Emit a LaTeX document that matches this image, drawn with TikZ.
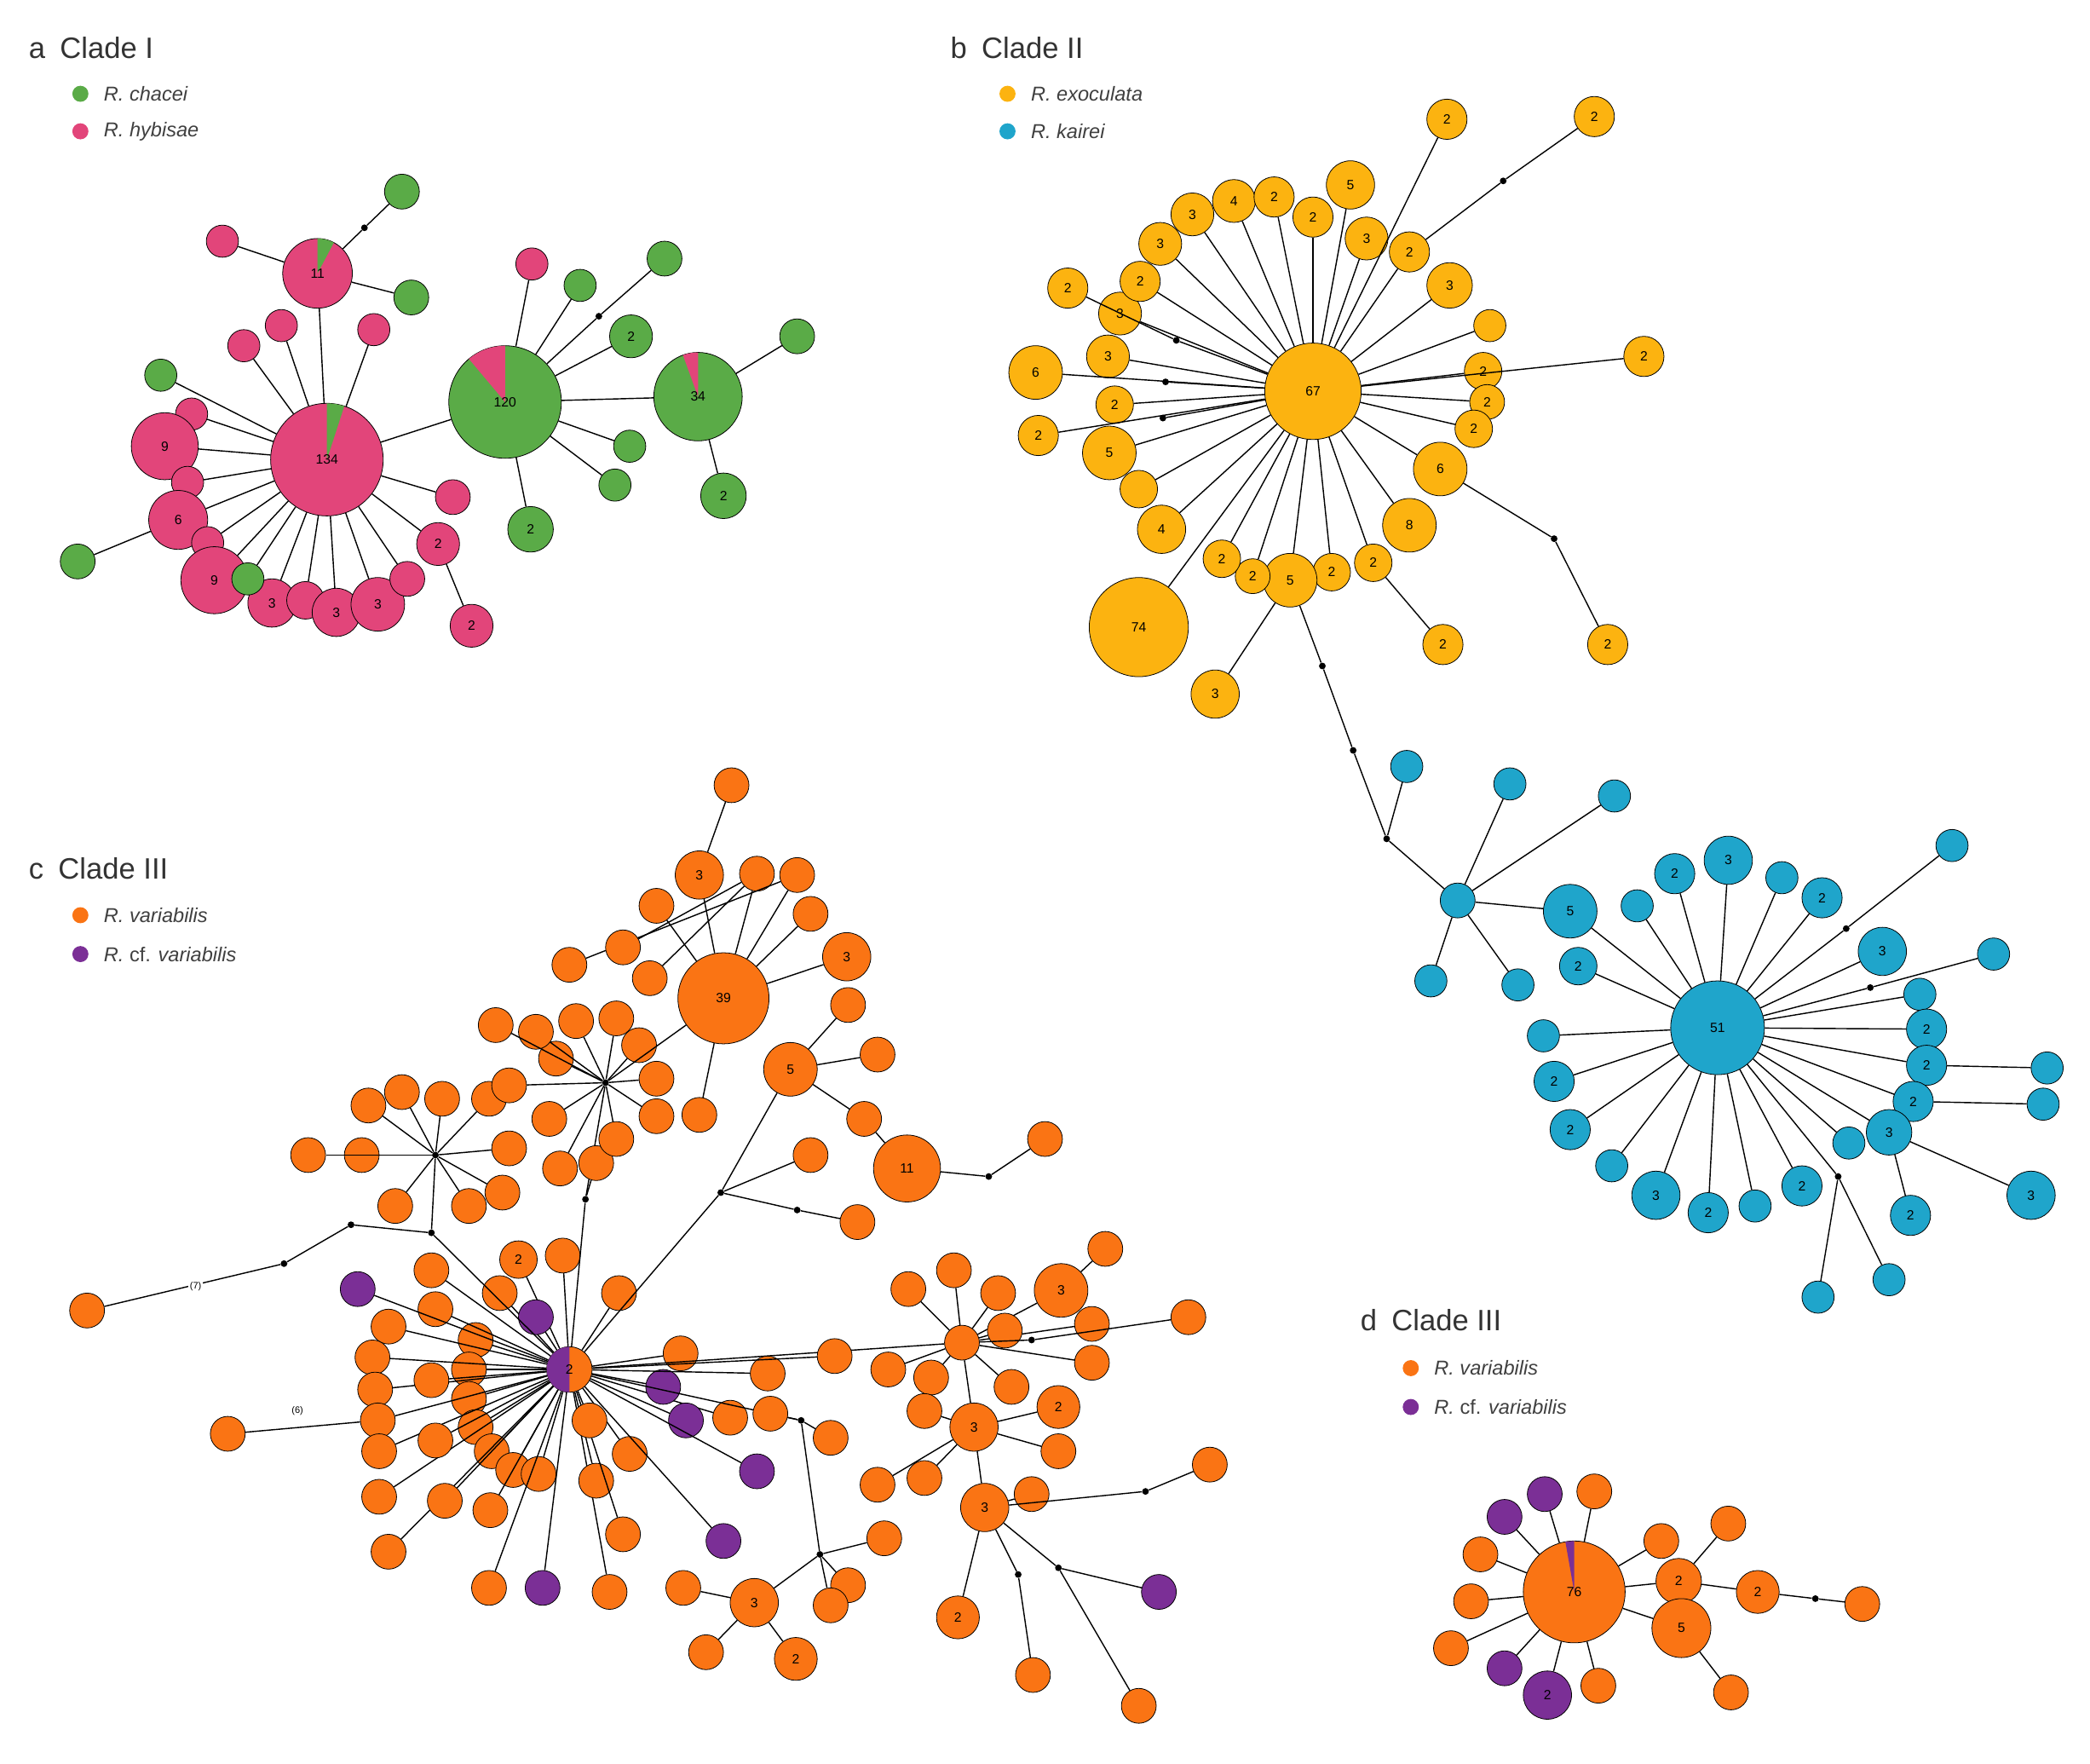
\documentclass[tikz,border=0pt]{standalone}
\usepackage{fontspec}
\setmainfont{Liberation Sans}
\begin{document}
\begin{tikzpicture}[x=1pt,y=-1pt,
 hapn/.style={circle,draw=black,line width=0.5pt,inner sep=0pt,font=\fontsize{10}{10}\selectfont},
 dotn/.style={circle,fill=black,inner sep=0pt,minimum size=5pt},
 edge/.style={line width=0.9pt,black},
 ttl/.style={anchor=west,font=\fontsize{22}{22}\selectfont,text=black!80},
 leg/.style={anchor=west,font=\fontsize{15}{15}\selectfont\itshape,text=black!75}]
\definecolor{cg}{HTML}{5AAB47}
\definecolor{cp}{HTML}{E2457A}
\definecolor{cy}{HTML}{FCB310}
\definecolor{cb}{HTML}{1FA5CB}
\definecolor{co}{HTML}{FA7414}
\definecolor{cv}{HTML}{7B2F96}
\newcommand\hp[5]{\node[hapn,minimum size=#3*2pt,fill=#4] (#1) at (#2) {#5};}
\newcommand\dt[2]{\node[dotn] (#1) at (#2) {};}
\newcommand\leaves[3]{\foreach \n/\x/\y/\r/\l in {#3}{\node[hapn,minimum size=\r*2pt,fill=#2] (\n) at (\x,\y) {\l}; \draw[edge] (#1) -- (\n);}}
\newcommand\ed[2]{\draw[edge] (#1) -- (#2);}
\fill[white] (0,0) rectangle (1560,1316);
\useasboundingbox (0,0) rectangle (1560,1316);
% ---------- titles
\node[ttl] (ta) at (18,36) {a\enspace Clade I};
\node[circle,fill=cg,minimum size=12pt,inner sep=0pt] (la1) at (60,70) {};
\node[leg] at (74,70) {R. chacei};
\node[circle,fill=cp,minimum size=12pt,inner sep=0pt] (la2) at (60,98) {};
\node[leg] at (74,98) {R. hybisae};
\node[ttl] (tb) at (706,36) {b\enspace Clade II};
\node[circle,fill=cy,minimum size=12pt,inner sep=0pt] (lb1) at (752,70) {};
\node[leg] at (766,70) {R. exoculata};
\node[circle,fill=cb,minimum size=12pt,inner sep=0pt] (lb2) at (752,98) {};
\node[leg] at (766,98) {R. kairei};
\node[ttl] (tc) at (18,648) {c\enspace Clade III};
\node[circle,fill=co,minimum size=12pt,inner sep=0pt] (lc1) at (60,683) {};
\node[leg] at (74,683) {R. variabilis};
\node[circle,fill=cv,minimum size=12pt,inner sep=0pt] (lc2) at (60,712) {};
\node[leg] at (74,712) {R. {\upshape cf.} variabilis};
\node[ttl] (td) at (1012,985) {d\enspace Clade III};
\node[circle,fill=co,minimum size=12pt,inner sep=0pt] (ld1) at (1053,1021) {};
\node[leg] at (1067,1021) {R. variabilis};
\node[circle,fill=cv,minimum size=12pt,inner sep=0pt] (ld2) at (1053,1050) {};
\node[leg] at (1067,1050) {R. {\upshape cf.} variabilis};
% ---------- panel a
\hp{A134}{244,343}{42}{cp}{}
\fill[cg] (A134.center) -- ++(72:42pt) arc (72:90:42pt) -- cycle;
\node[font=\fontsize{10}{10}\selectfont] at (A134.center) {134};
\hp{A120}{377,300}{42}{cg}{}
\fill[cp] (A120.center) -- ++(90:42pt) arc (90:130:42pt) -- cycle;
\node[font=\fontsize{10}{10}\selectfont] at (A120.center) {120};
\hp{A34}{521,296}{33}{cg}{}
\fill[cp] (A34.center) -- ++(90:33pt) arc (90:110:33pt) -- cycle;
\node[font=\fontsize{10}{10}\selectfont] at (A34.center) {34};
\hp{A11}{237,204}{26}{cp}{}
\fill[cg] (A11.center) -- ++(62:26pt) arc (62:90:26pt) -- cycle;
\node[font=\fontsize{10}{10}\selectfont] at (A11.center) {11};
\ed{A134}{A11}\ed{A134}{A120}\ed{A120}{A34}
\dt{ad1}{272,170}\ed{A11}{ad1}
\leaves{ad1}{cg}{a40/300/143/13/{}}
\leaves{A11}{cp}{a41/166/180/12/{}}
\leaves{A11}{cg}{a42/307/222/13/{}}
\leaves{A134}{cp}{a1/210/243/12/{},a2/182/258/12/{},a3/279/246/12/{},a4/143/309/12/{},a5/123/333/25/9,a6/140/360/12/{},a7/133/388/22/6,a8/155/405/12/{},a9/160/433/25/9,a11/203/450/18/3,a12/228/448/14/{},a13/251/457/18/3,a14/282/451/20/3,a15/304/432/13/{},a16/327/406/16/2,a17/338/371/13/{}}
\leaves{A134}{cg}{a10/185/432/12/{},a18/120/280/12/{}}
\leaves{a16}{cp}{a19/352/467/16/2}
\leaves{a7}{cg}{a20/58/419/13/{}}
\dt{ad2}{447,236}\ed{A120}{ad2}
\leaves{ad2}{cg}{a21/496/193/13/{}}
\leaves{A120}{cp}{a22/397/197/12/{}}
\leaves{A120}{cg}{a23/433/213/12/{},a24/471/251/16/2,a25/470/333/12/{},a26/459/362/12/{},a27/396/395/17/2}
\leaves{A34}{cg}{a28/595/251/13/{},a29/540/370/17/2}
% ---------- panel b
\hp{B67}{980,292}{36}{cy}{67}
\leaves{B67}{cy}{b1/890/160/16/3,b2/921/150/16/4,b3/951/147/15/2,b4/980/162/15/2,b5/1008/138/18/5,b6/1020/178/16/3,b7/1052/188/15/2,b8/1082/213/17/3,b9/1112/243/12/{},b10/1107/277/14/2,b11/1110/300/13/2,b12/1100/320/14/2,b13/1075/350/20/6,b14/1052/392/20/8,b15/1025/420/14/2,b16/994/427/14/2,b17/963/433/20/5,b18/935/430/13/2,b19/912/417/14/2,b20/867/395/18/4,b21/850/365/14/{},b22/828/338/20/5,b23/832/302/14/2,b24/827/266/16/3,b25/836/234/16/3,b26/851/210/15/2,b27/866/182/16/3,b29/773/278/20/6,b30/775/325/15/2,b31/850/468/37/74,b32/1080/89/15/2,b33/1227/266/15/2}
\dt{bd1}{878,254}\ed{B67}{bd1}\leaves{bd1}{cy}{b28/797/215/15/2}
\dt{bd2}{870,285}\ed{B67}{bd2}\dt{bd3}{868,312}\ed{B67}{bd3}
\dt{bd4}{1122,135}\ed{b7}{bd4}\leaves{bd4}{cy}{b34/1190/87/15/2}
\dt{bd5}{1160,402}\ed{b13}{bd5}\leaves{bd5}{cy}{b35/1200/481/15/2}
\leaves{b15}{cy}{b36/1077/481/15/2}
\leaves{b17}{cy}{b37/907/518/18/3}
\dt{bd6}{987,497}\dt{bd7}{1010,560}\dt{bd8}{1035,626}
\ed{b17}{bd6}\ed{bd6}{bd7}\ed{bd7}{bd8}
\hp{BH}{1088,672}{13}{cb}{}
\ed{bd8}{BH}
\leaves{bd8}{cb}{c1/1050/572/12/{}}
\leaves{BH}{cb}{c2/1127/585/12/{},c3/1205/594/12/{},c4/1068/732/12/{},c5/1133/735/12/{},c6/1172/680/20/5}
\hp{B51}{1282,767}{35}{cb}{51}
\ed{c6}{B51}
\leaves{B51}{cb}{c7/1178/721/14/2,c8/1222/676/12/{},c9/1250/652/15/2,c10/1290/642/18/3,c11/1330/655/12/{},c12/1360/670/15/2,c13/1405/710/18/3,c14/1433/742/12/{},c15/1438/768/15/2,c16/1438/795/15/2,c17/1428/822/15/2,c18/1410/845/17/3,c19/1380/853/12/{},c20/1345/885/15/2,c21/1310/900/12/{},c22/1275/905/15/2,c23/1236/892/18/3,c24/1203/870/12/{},c25/1172/843/15/2,c26/1160/807/15/2,c27/1152/773/12/{}}
\dt{bd9}{1378,693}\ed{B51}{bd9}\leaves{bd9}{cb}{c28/1457/631/12/{}}
\dt{bd10}{1396,737}\ed{B51}{bd10}\leaves{bd10}{cb}{c29/1488/712/12/{}}
\leaves{c16}{cb}{c30/1528/797/12/{}}
\leaves{c17}{cb}{c31/1525/824/12/{}}
\leaves{c18}{cb}{c32/1516/892/18/3,c33/1426/907/15/2}
\dt{bd11}{1372,878}\ed{B51}{bd11}
\leaves{bd11}{cb}{c34/1357/968/12/{},c35/1410/955/12/{}}
% ---------- panel c
\hp{C0}{425,1022}{17}{co}{}
\fill[cv] (C0.center) -- ++(90:17pt) arc (90:270:17pt) -- cycle;
\node[font=\fontsize{10}{10}\selectfont] at (C0.center) {2};
\leaves{C0}{co}{d1/355/1000/13/{},d2/350/1022/13/{},d3/350/1044/13/{},d4/355/1065/13/{},d5/367/1083/13/{},d6/383/1097/13/{},d7/402/1100/13/{},d8/290/990/13/{},d9/278/1013/13/{},d10/280/1037/13/{},d11/282/1060/13/{},d12/283/1083/13/{},d13/283/1117/13/{},d14/290/1158/13/{},d15/322/1030/13/{},d16/325/1075/13/{},d17/325/977/13/{},d18/332/1120/13/{},d19/366/1127/13/{},d20/365/1185/13/{},d22/455/1188/13/{},d23/445/1105/13/{},d24/465/1145/13/{},d25/470/1085/13/{},d30/545/1058/13/{},d31/462/965/13/{},d32/420/937/13/{},d33/387/940/14/2,d35/373/965/13/{},d36/322/948/13/{},d38/508/1010/13/{},d39/440/1060/13/{}}
\leaves{C0}{cv}{d21/405/1185/13/{},d26/495/1035/13/{},d27/512/1060/13/{},d28/565/1098/13/{},d29/540/1150/13/{},d34/400/983/13/{},d37/267/962/13/{}}
\dt{cd1}{322,920}\dt{cd2}{262,914}\dt{cd3}{212,943}
\ed{C0}{cd1}\ed{cd1}{cd2}\ed{cd2}{cd3}
\leaves{cd3}{co}{e1/65/978/13/{}}
\node[font=\fontsize{7}{7}\selectfont,fill=white,inner sep=1pt] (l7) at (146,960) {(7)};
\leaves{d11}{co}{e2/170/1070/13/{}}
\node[font=\fontsize{7}{7}\selectfont,fill=white,inner sep=1pt] (l6) at (222,1053) {(6)};
\dt{cH2}{325,862}\ed{cd1}{cH2}
\leaves{cH2}{co}{e3/275/825/13/{},e4/300/815/13/{},e5/330/820/13/{},e6/365/820/13/{},e7/380/857/13/{},e8/270/862/13/{},e9/295/900/13/{},e10/350/900/13/{},e11/375/890/13/{},e12/230/862/13/{}}
\dt{cd4}{437,895}\ed{C0}{cd4}
\dt{cH1}{452,808}\ed{cd4}{cH1}
\leaves{cd4}{co}{e13/445/868/13/{}}
\leaves{cH1}{co}{e14/410/835/13/{},e15/418/872/13/{},e16/460/850/13/{},e17/490/833/13/{},e18/490/805/13/{},e19/477/780/13/{},e20/460/760/13/{},e21/430/762/13/{},e22/415/790/13/{},e23/400/770/13/{},e24/370/765/13/{},e25/380/810/13/{}}
\hp{C39}{540,745}{34}{co}{39}
\ed{cH1}{C39}
\leaves{C39}{co}{e26/522/832/13/{},e27/522/653/18/3,e28/490/676/13/{},e29/565/652/13/{},e30/595/653/13/{},e31/605/682/13/{},e32/632/714/18/3}
\leaves{e27}{co}{e33/546/586/13/{}}
\leaves{e30}{co}{e34/425/720/13/{}}
\leaves{e29}{co}{e35/465/707/13/{},e36/485/730/13/{}}
\dt{cd5}{538,890}\ed{C0}{cd5}
\leaves{cd5}{co}{e37/590/798/20/5,e38/605/862/13/{}}
\leaves{e37}{co}{e39/633/750/13/{},e40/655/787/13/{},e41/645/835/13/{}}
\dt{cd6}{595,903}\ed{cd5}{cd6}\leaves{cd6}{co}{e42/640/912/13/{}}
\hp{C11}{677,872}{25}{co}{11}\ed{e41}{C11}
\dt{cd7}{738,878}\ed{C11}{cd7}\leaves{cd7}{co}{e43/780/850/13/{}}
% right subtree
\hp{CR}{718,1002}{13}{co}{}\ed{C0}{CR}
\leaves{CR}{co}{f1/678/962/13/{},f2/712/948/13/{},f3/745/965/13/{},f4/792/963/20/3,f5/815/988/13/{},f6/815/1017/13/{},f7/750/993/13/{},f8/755/1035/13/{},f9/663/1022/13/{},f10/695/1028/13/{}}
\leaves{f4}{co}{f11/825/932/13/{}}
\dt{cd8}{770,1000}\ed{CR}{cd8}\leaves{cd8}{co}{f12/887/983/13/{}}
\leaves{C0}{co}{f13/573/1025/13/{},f14/623/1012/13/{}}
\dt{cd9}{598,1060}\ed{C0}{cd9}
\leaves{cd9}{co}{f15/575/1055/13/{},f16/620/1073/13/{}}
\hp{C3a}{727,1065}{18}{co}{3}\ed{CR}{C3a}
\leaves{C3a}{co}{f17/790/1050/16/2,f18/790/1083/13/{},f19/690/1053/13/{},f20/690/1103/13/{},f21/655/1108/13/{}}
\hp{C3b}{735,1125}{18}{co}{3}\ed{C3a}{C3b}
\leaves{C3b}{co}{f22/770/1115/13/{},f23/715/1207/16/2}
\dt{cd10}{855,1113}\ed{C3b}{cd10}\leaves{cd10}{co}{f24/903/1093/13/{}}
\dt{cd11}{760,1175}\ed{C3b}{cd11}\leaves{cd11}{co}{f25/771/1250/13/{}}
\dt{cd12}{790,1170}\ed{C3b}{cd12}\leaves{cd12}{co}{f27/850/1273/13/{}}
\leaves{cd12}{cv}{f26/865/1188/13/{}}
\dt{cd13}{612,1160}\ed{cd9}{cd13}
\leaves{cd13}{co}{f28/660/1148/13/{},f29/633/1183/13/{},f30/620/1198/13/{}}
\hp{C3c}{563,1196}{18}{co}{3}\ed{cd13}{C3c}
\leaves{C3c}{co}{f31/510/1185/13/{},f32/527/1233/13/{},f33/594/1238/16/2}
% ---------- panel d
\hp{D76}{1175,1188}{38}{co}{}
\fill[cv] (D76.center) -- ++(90:38pt) arc (90:100:38pt) -- cycle;
\node[font=\fontsize{10}{10}\selectfont] at (D76.center) {76};
\leaves{D76}{cv}{g1/1153/1115/13/{},g2/1123/1132/13/{},g3/1123/1245/13/{},g4/1155/1265/18/2}
\leaves{D76}{co}{g5/1190/1113/13/{},g6/1105/1160/13/{},g7/1098/1195/13/{},g8/1083/1230/13/{},g9/1193/1258/13/{},g10/1240/1150/13/{},g11/1253/1180/17/2,g12/1255/1215/22/5}
\leaves{g11}{co}{g13/1290/1137/13/{},g14/1312/1188/16/2}
\leaves{g12}{co}{g16/1292/1263/13/{}}
\dt{dd1}{1355,1193}\ed{g14}{dd1}\leaves{dd1}{co}{g15/1390/1197/13/{}}
\end{tikzpicture}
\end{document}
